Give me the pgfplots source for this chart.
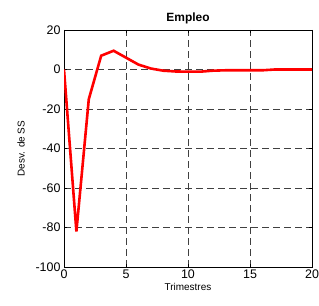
\documentclass[border=0pt]{standalone}
\usepackage{pgfplots}
\pgfplotsset{compat=1.18}
\usepackage{fontspec}
\setmainfont{Liberation Sans}
\begin{document}
\begin{tikzpicture}
\useasboundingbox (-64bp,-39bp) rectangle (255bp,267bp);
\begin{axis}[
  at={(0,0)}, anchor=south west,
  scale only axis,
  width=248bp, height=237bp,
  xmin=0, xmax=20, ymin=-100, ymax=20,
  xtick={0,5,...,20}, ytick={-100,-80,...,20},
  grid=major,
  major grid style={black!75, dash pattern=on 7bp off 4bp, line width=0.6bp},
  axis line style={black, line width=0.7bp},
  tick style={black},
  tick align=inside,
  major tick length=3bp,
  /pgf/number format/assume math mode=true,
  ticklabel style={font=\fontsize{12.5}{14}\selectfont},
  xticklabel style={yshift=1bp},
  title={\textbf{Empleo}},
  title style={font=\fontsize{12}{14}\selectfont, yshift=-3bp},
  xlabel={Trimestres},
  ylabel={Desv. de SS},
  xlabel style={font=\fontsize{10}{12}\selectfont, yshift=2bp},
  ylabel style={font=\fontsize{10}{12}\selectfont, yshift=4bp},
]
\addplot[red, line width=2.6bp] coordinates {
(0,0) (1,-82) (2,-15) (3,7) (4,9.5) (5,6) (6,2.5) (7,0.5) (8,-0.6) (9,-1) (10,-1.1) (11,-1.1) (12,-0.6) (13,-0.4) (14,-0.4) (15,-0.4) (16,-0.4) (17,0) (18,0) (19,0) (20,0)
};
\end{axis}
\end{tikzpicture}
\end{document}
